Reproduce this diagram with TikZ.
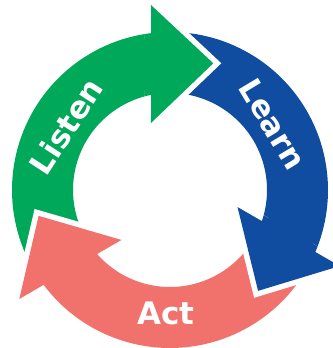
\documentclass[tikz,border=0pt]{standalone}
\usepackage{fontspec}
\newfontfamily\cyclefont{DejaVu Sans}
\definecolor{cgreen}{RGB}{0,168,90}
\definecolor{cblue}{RGB}{16,77,161}
\definecolor{csalmon}{RGB}{241,114,108}
% one arrow of the cycle, drawn in the frame of the top (green) arrow
\newcommand\cyclearrow[1]{%
  \path[#1] (210:158) arc[start angle=210,end angle=96.906,radius=158]
    -- (-19,185) -- (43.3,126.7) -- (-19,67)
    -- (101.296:97) arc[start angle=101.296,end angle=210,radius=97] -- cycle;}
\newcommand\headclip[1]{%
  \clip[rotate=#1] (-25,0) -- (250,0) -- (250,250) -- (-25,250) -- cycle;}
\begin{document}
\begin{tikzpicture}[x=1pt,y=1pt,
  gap/.style={preaction={draw=white,line width=11pt,line join=miter}},
  lbl/.style={text=white,font=\cyclefont\bfseries\fontsize{31}{31}\selectfont,inner sep=0pt}]
\useasboundingbox (-170,-158) rectangle (162,190);
\cyclearrow{fill=cgreen,gap,rotate=0}
\cyclearrow{fill=cblue,gap,rotate=-120}
\cyclearrow{fill=csalmon,gap,rotate=120}
\begin{scope}
  \headclip{0}
  \cyclearrow{fill=cgreen,gap,rotate=0}
\end{scope}
\begin{scope}
  \headclip{-120}
  \cyclearrow{fill=cblue,gap,rotate=-120}
\end{scope}
\node[lbl,rotate=57] (listen) at (148.5:122) {Listen};
\node[lbl,rotate=-59] (learn) at (32.4:122) {Learn};
\node[lbl] (act) at (-4,-123) {Act};
\end{tikzpicture}
\end{document}
